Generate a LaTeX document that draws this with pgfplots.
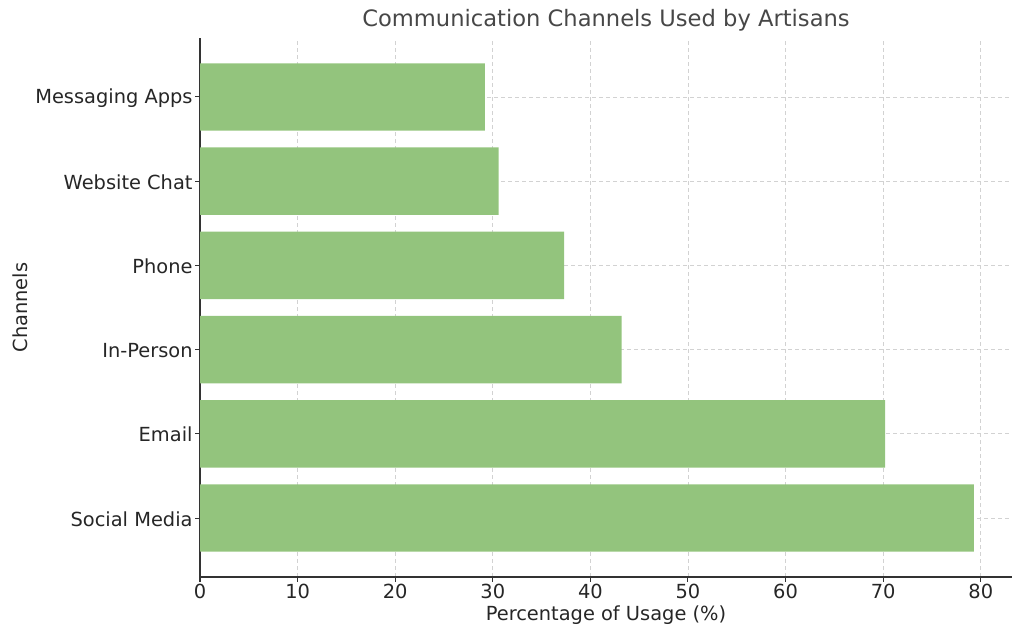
\documentclass[border=0pt]{standalone}
\usepackage{pgfplots}
\pgfplotsset{compat=1.18}
\usepackage{fontspec}
\setmainfont{DejaVu Sans}
\definecolor{barGreen}{RGB}{147,196,125}
\definecolor{txt}{RGB}{38,38,38}
\definecolor{spine}{RGB}{51,51,51}
\definecolor{gridGray}{RGB}{210,210,210}

\begin{document}
\begin{tikzpicture}
\begin{axis}[
    scale only axis,
    width=406pt, height=269.5pt,
    xmin=0, xmax=83.2, ymin=-0.7, ymax=5.7,
    axis x line*=bottom, axis y line*=left,
    axis line style={-, spine, line width=0.7pt},
    ytick={0,...,5},
    yticklabels={Social Media, Email, In-Person, Phone, Website Chat, Messaging Apps},
    xtick={0,10,...,80},
    tick align=outside, major tick length=2.5pt,
    tick style={spine, line width=0.5pt},
    xmajorgrids, ymajorgrids,
    grid style={dash pattern=on 2pt off 1.5pt, gridGray, line width=0.4pt},
    tick label style={font=\fontsize{9.7}{11}\selectfont, text=txt},
    yticklabel style={xshift=2.3pt, yshift=-0.4pt},
    xticklabel style={yshift=2.5pt},
    /pgf/number format/assume math mode=true,
    xlabel={Percentage of Usage (\%)},
    ylabel={Channels},
    label style={font=\fontsize{9.7}{11}\selectfont, text=txt},
    xlabel style={at={(axis description cs:0.5,-0.0705)}, anchor=center, yshift=0pt},
    ylabel style={at={(axis description cs:-0.2217,0.5)}, anchor=center, xshift=0pt},
    every axis title shift=0pt,
    title={Communication Channels Used by Artisans},
    title style={at={(axis description cs:0.5,1.0334)}, anchor=center, yshift=0pt,
                 font=\fontsize{11.3}{13}\selectfont, text=txt!85},
]
\addplot[xbar, bar width=0.8, fill=barGreen, draw=none] coordinates {
  (79.3,0) (70.2,1) (43.2,2) (37.3,3) (30.6,4) (29.2,5)
};
\coordinate (sw) at (rel axis cs:0,0);
\coordinate (ne) at (rel axis cs:1,1);
\end{axis}
\pgfresetboundingbox
\path ([shift={(-100pt,-30.5pt)}]sw) rectangle ([shift={(6pt,19pt)}]ne);
\end{tikzpicture}
\end{document}
